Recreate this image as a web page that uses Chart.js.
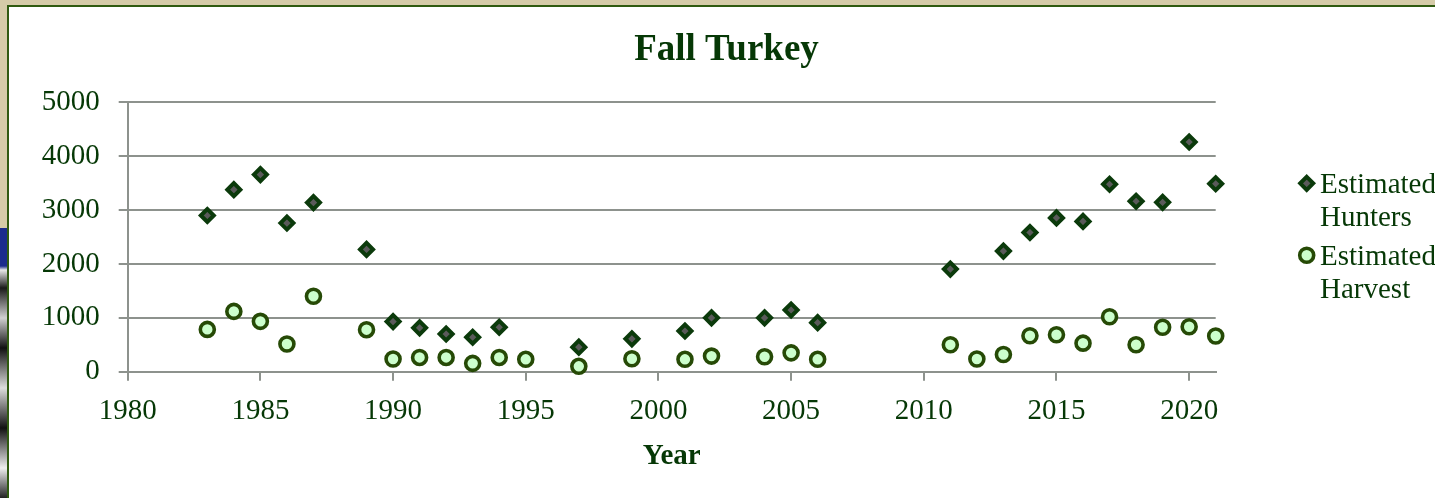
<!DOCTYPE html>
<html>
<head>
<meta charset="utf-8">
<script src="https://cdn.jsdelivr.net/npm/chart.js@4.4.1/dist/chart.umd.min.js"></script>
<style>
  html, body { margin: 0; padding: 0; width: 1435px; height: 498px; overflow: hidden; background: #d5cba8; }
  #seal { position: absolute; left: 0; top: 228px; width: 8px; height: 270px;
    background: linear-gradient(#1b2b8c 0px, #1b2b8c 38px, #e8e8e8 42px, #1a1a1a 60px, #d0d0d0 90px, #111 120px, #ddd 160px, #111 200px, #eee 240px, #222 270px); }
  #frame { position: absolute; left: 7px; top: 5px; width: 1440px; height: 500px;
    border-left: 2px solid #2f5a10; border-top: 2px solid #2f5a10; background: #ffffff; }
  #wrap { position: absolute; left: 0; top: 0; width: 1435px; height: 491px; }
</style>
</head>
<body>
<div id="seal"></div>
<div id="frame"><div id="wrap"><canvas id="c"></canvas></div></div>
<script>
// ---- Data ----
const hunterYears  = [1983, 1984, 1985, 1986, 1987, 1989, 1990, 1991, 1992, 1993, 1994, 1997, 1999, 2001, 2002, 2004, 2005, 2006, 2011, 2013, 2014, 2015, 2016, 2017, 2018, 2019, 2020, 2021];
const hunterValues = [2900, 3380, 3660, 2760, 3140, 2270, 930, 815, 700, 640, 825, 455, 610, 755, 1000, 1000, 1145, 910, 1905, 2240, 2585, 2855, 2790, 3480, 3165, 3145, 4265, 3490];
const harvestYears  = [1983, 1984, 1985, 1986, 1987, 1989, 1990, 1991, 1992, 1993, 1994, 1995, 1997, 1999, 2001, 2002, 2004, 2005, 2006, 2011, 2012, 2013, 2014, 2015, 2016, 2017, 2018, 2019, 2020, 2021];
const harvestValues = [785, 1120, 935, 515, 1400, 780, 235, 265, 265, 155, 265, 230, 100, 240, 230, 290, 278, 350, 230, 500, 235, 320, 668, 686, 530, 1020, 500, 825, 835, 662];
const seriesNames = ['Estimated Hunters', 'Estimated Harvest'];
const legendLines = [['Estimated', 'Hunters'], ['Estimated', 'Harvest']];
const xTickValues = [1980, 1985, 1990, 1995, 2000, 2005, 2010, 2015, 2020];
const yTickValues = [0, 1000, 2000, 3000, 4000, 5000];
const chartTitle = 'Fall Turkey';
const xTitle = 'Year';

const TEXT = '#063806';
const GRID = '#8d928d';
const FONT = "'Liberation Serif', 'Times New Roman', serif";

const toPoints = (xs, ys) => xs.map((x, i) => ({ x: x, y: ys[i] }));

const legendPlugin = {
  id: 'sideLegend',
  afterDraw(chart) {
    const ctx = chart.ctx;
    const x0 = 1297.7, tx = 1311;
    const ys = [176.3, 248.3];
    ctx.save();
    ctx.font = '29px ' + FONT;
    ctx.fillStyle = TEXT;
    ctx.textBaseline = 'alphabetic';
    ctx.textAlign = 'left';
    chart.data.datasets.forEach((ds, i) => {
      const cy = ys[i];
      ctx.save();
      ctx.lineWidth = ds.borderWidth;
      ctx.strokeStyle = ds.borderColor;
      ctx.fillStyle = ds.backgroundColor;
      ctx.beginPath();
      const r = ds.pointRadius;
      if (ds.pointStyle === 'rectRot') {
        ctx.moveTo(x0, cy - r); ctx.lineTo(x0 + r, cy); ctx.lineTo(x0, cy + r); ctx.lineTo(x0 - r, cy); ctx.closePath();
      } else {
        ctx.arc(x0, cy, r, 0, Math.PI * 2);
      }
      ctx.fill(); ctx.stroke();
      ctx.restore();
      legendLines[i].forEach((t, j) => {
        ctx.fillText(t, tx, cy + 9.5 + j * 33);
      });
    });
    ctx.restore();
  }
};

new Chart(document.getElementById('c'), {
  type: 'scatter',
  data: {
    datasets: [
      {
        label: seriesNames[0],
        data: toPoints(hunterYears, hunterValues),
        pointStyle: 'rectRot',
        pointRadius: 6.5,
        pointHoverRadius: 6.5,
        backgroundColor: '#5a5a5a',
        borderColor: '#0b3a0b',
        borderWidth: 4,
        clip: false
      },
      {
        label: seriesNames[1],
        data: toPoints(harvestYears, harvestValues),
        pointStyle: 'circle',
        pointRadius: 7,
        pointHoverRadius: 7,
        backgroundColor: '#ccffcc',
        borderColor: '#264a06',
        borderWidth: 3.6,
        clip: false
      }
    ]
  },
  options: {
    responsive: true,
    maintainAspectRatio: false,
    animation: false,
    events: [],
    layout: { padding: { left: 0, right: 0, top: 0, bottom: 0 } },
    plugins: {
      legend: { display: false },
      tooltip: { enabled: false },
      title: {
        display: true,
        text: chartTitle,
        color: TEXT,
        font: { family: FONT, size: 37, weight: 'bold' },
        padding: { top: 21, bottom: 30 }
      }
    },
    scales: {
      x: {
        type: 'linear',
        position: 'bottom',
        min: 1980,
        max: 2021,
        afterFit(s) { s.height = 126.3; },
        afterBuildTicks(s) { s.ticks = xTickValues.map(v => ({ value: v })); },
        ticks: {
          includeBounds: false,
          color: TEXT,
          font: { family: FONT, size: 29 },
          padding: 13,
          maxRotation: 0,
          autoSkip: false,
          callback: v => String(v)
        },
        grid: { display: true, drawOnChartArea: false, drawTicks: true, tickLength: 9, color: GRID, lineWidth: 2 },
        border: { display: true, color: GRID, width: 2 },
        title: {
          display: true,
          text: xTitle,
          color: TEXT,
          font: { family: FONT, size: 29, weight: 'bold' },
          padding: { top: 0, bottom: 24 }
        }
      },
      y: {
        type: 'linear',
        position: 'left',
        min: 0,
        max: 5000,
        afterFit(s) { s.width = 118.7; },
        afterBuildTicks(s) { s.ticks = yTickValues.map(v => ({ value: v })); },
        ticks: {
          color: TEXT,
          font: { family: FONT, size: 29 },
          padding: 19,
          callback: v => String(v)
        },
        grid: { display: true, drawTicks: true, tickLength: 9, color: GRID, lineWidth: 2 },
        border: { display: true, color: GRID, width: 2 }
      },
      yRight: {
        type: 'linear',
        position: 'right',
        display: true,
        min: 0,
        max: 1,
        afterFit(s) { s.width = 228.3; },
        ticks: { display: false },
        grid: { display: false, drawTicks: false },
        border: { display: false }
      }
    }
  },
  plugins: [legendPlugin]
});
</script>
</body>
</html>
